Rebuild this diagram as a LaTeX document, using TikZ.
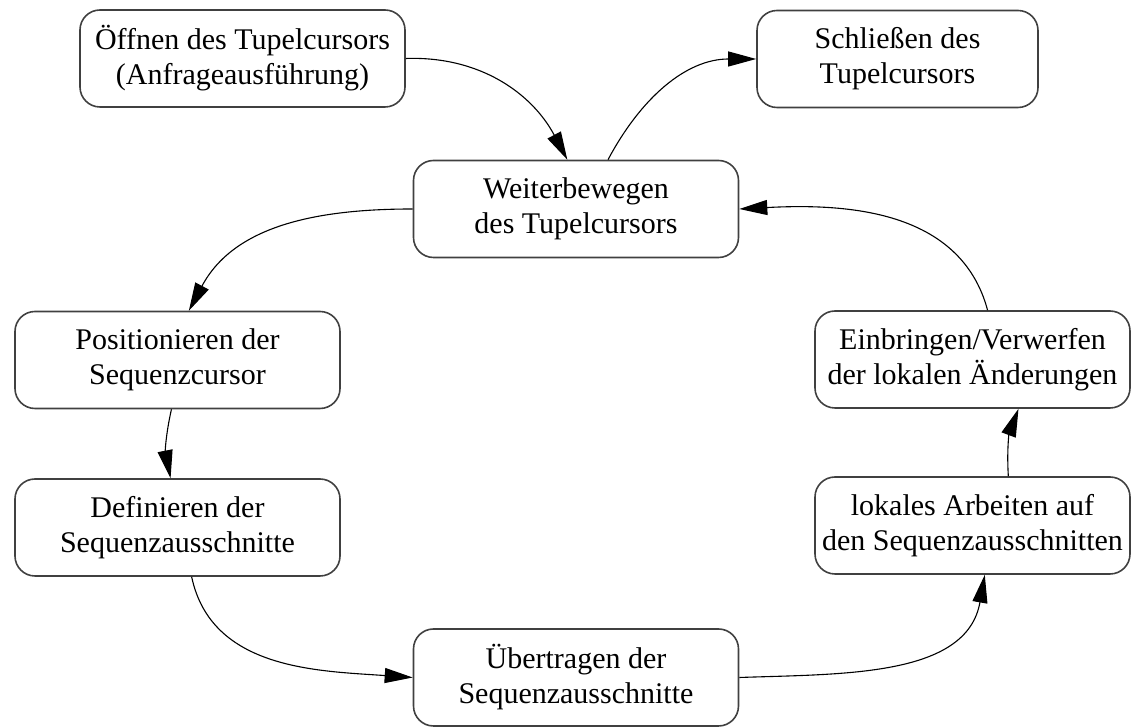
\documentclass[tikz,border=0pt]{standalone}
\usepackage{fontspec}
\setmainfont{Liberation Serif}
\usetikzlibrary{arrows.meta}

\begin{document}
\begin{tikzpicture}[
    x=0.5pt, y=0.5pt,
    font=\fontsize{15}{17.5}\selectfont, >={Triangle[length=14pt,width=7.5pt]},
    st/.style={rectangle,draw=black!75,line width=0.8pt,rounded corners=10pt,align=center,
               minimum width=162.5pt,minimum height=48.5pt,inner xsep=3pt},
    ed/.style={->,line width=0.55pt}]

  \useasboundingbox (0,0) rectangle (1131,727);

  % ---------------- top row: open and close
  \node[st] (open) at (242.5,668.5) {Öffnen des Tupelcursors\\(Anfrageausführung)};
  \node[st,minimum width=140.5pt] (close) at (897.5,668) {Schließen des\\Tupelcursors};
  \node[st] (move) at (576,518) {Weiterbewegen\\des Tupelcursors};

  % ---------------- left side of the loop
  \node[st] (pos) at (177.5,367) {Positionieren der\\Sequenzcursor};
  \node[st] (def) at (177.5,199.5) {Definieren der\\Sequenzausschnitte};

  % ---------------- bottom and right side
  \node[st] (trans) at (576,49.5) {Übertragen der\\Sequenzausschnitte};
  \node[st,minimum width=157.5pt] (work) at (972.5,201.5) {lokales Arbeiten auf\\den Sequenzausschnitten};
  \node[st,minimum width=157.5pt] (commit) at (972.5,367.5) {Einbringen/Verwerfen\\der lokalen Änderungen};

  \draw[ed] (open.east) to[out=2,in=118] (move.100);
  \draw[ed] (move.57) to[out=62,in=180] (close.west);
  \draw[ed] (move.west) to[out=180,in=62] (pos.77);
  \draw[ed] (pos.263) to[bend right=12] (def.98);
  \draw[ed] (def.286) to[out=-78,in=176] (trans.west);
  \draw[ed] (trans.east) to[out=2,in=-100] (work.284);
  \draw[ed] (work.54) to[bend left=12] (commit.-47);
  \draw[ed] (commit.73) to[out=105,in=3] (move.east);
\end{tikzpicture}
\end{document}
